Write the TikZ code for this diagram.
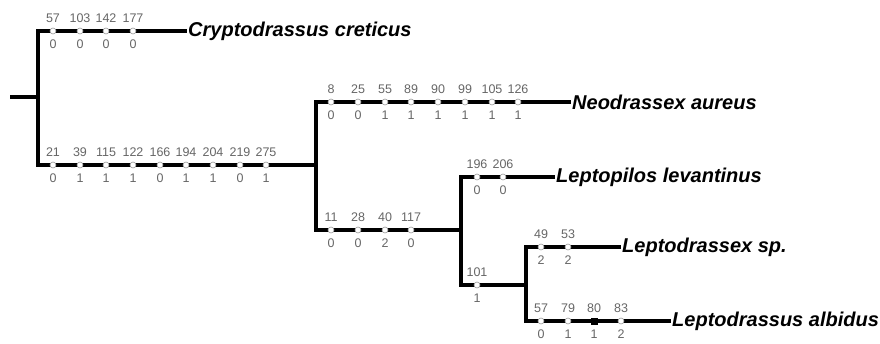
\documentclass[tikz,border=0pt]{standalone}
\usepackage{fontspec}
\setmainfont{Liberation Sans}
\begin{document}
\begin{tikzpicture}[x=1pt,y=-1pt,
  branch/.style={line width=3.2pt,line cap=butt},
  taxon/.style={anchor=west,inner sep=1pt,font=\fontsize{20}{20}\selectfont\bfseries\itshape},
  num/.style={inner sep=0pt,anchor=center,text=black!60,font=\fontsize{12.5}{12.5}\selectfont},
  mk/.style={circle,minimum size=6pt,inner sep=0pt,fill=white,draw=black!40,line width=0.6pt},
  mksq/.style={rectangle,minimum size=6pt,inner sep=0pt,fill=black,draw=black},
]
\useasboundingbox (0,0) rectangle (880,343);

% internal nodes and tips
\coordinate (root) at (10,97);
\coordinate (n0) at (38,97);
\coordinate (n1) at (316,165);
\coordinate (n2) at (461,230);
\coordinate (n3) at (526,285);
\node[taxon] (crypto) at (187,31) {Cryptodrassus creticus};
\node[taxon] (neo) at (571,102) {Neodrassex aureus};
\node[taxon] (lev) at (555,177) {Leptopilos levantinus};
\node[taxon] (sp) at (621,247) {Leptodrassex sp.};
\node[taxon] (alb) at (671,321) {Leptodrassus albidus};

% branches
\draw[branch] (root) -- (n0);
\draw[branch] (n0) |- (crypto.west);
\draw[branch] (n0) |- (n1);
\draw[branch] (n1) |- (neo.west);
\draw[branch] (n1) |- (n2);
\draw[branch] (n2) |- (lev.west);
\draw[branch] (n2) |- (n3);
\draw[branch] (n3) |- (sp.west);
\draw[branch] (n3) |- (alb.west);

% character change: marker with character number above and state below
\newcommand{\chg}[5][mk]{%
  \node[#1] (#2) at (#3) {};
  \node[num] (#2-c) at ([yshift=12.5pt]#2.center) {#4};
  \node[num] (#2-s) at ([yshift=-13pt]#2.center) {#5};}

\foreach \x/\c/\s [count=\i] in {53/57/0,80/103/0,106/142/0,133/177/0}
  {\chg{cc\i}{\x,31}{\c}{\s}}
\foreach \x/\c/\s [count=\i] in {53/21/0,80/39/1,106/115/1,133/122/1,160/166/0,
    186/194/1,213/204/1,240/219/0,266/275/1}
  {\chg{ab\i}{\x,165}{\c}{\s}}
\foreach \x/\c/\s [count=\i] in {331/8/0,358/25/0,385/55/1,411/89/1,438/90/1,
    465/99/1,492/105/1,518/126/1}
  {\chg{na\i}{\x,102}{\c}{\s}}
\foreach \x/\c/\s [count=\i] in {331/11/0,358/28/0,385/40/2,411/117/0}
  {\chg{lc\i}{\x,230}{\c}{\s}}
\foreach \x/\c/\s [count=\i] in {477/196/0,503/206/0}
  {\chg{ll\i}{\x,177}{\c}{\s}}
\chg{lx1}{477,285}{101}{1}
\foreach \x/\c/\s [count=\i] in {541/49/2,568/53/2}
  {\chg{ls\i}{\x,247}{\c}{\s}}
\foreach \x/\c/\s [count=\i] in {541/57/0,568/79/1}
  {\chg{la\i}{\x,321}{\c}{\s}}
\chg[mksq]{la3}{594,321}{80}{1}
\chg{la4}{621,321}{83}{2}
\end{tikzpicture}
\end{document}
